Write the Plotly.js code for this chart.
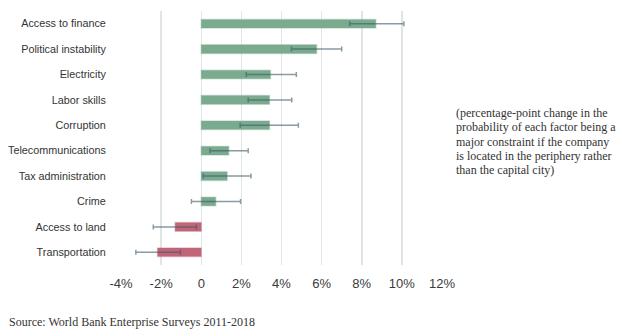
<!DOCTYPE html>
<html>
<head>
<meta charset="utf-8">
<script src="https://cdn.plot.ly/plotly-3.0.1.min.js"></script>
<style>html,body{margin:0;padding:0;background:#fff;}#chart{width:627px;height:334px;}</style>
</head>
<body>
<div id="chart"></div>
<script>
var categories = ["Access to finance","Political instability","Electricity","Labor skills","Corruption","Telecommunications","Tax administration","Crime","Access to land","Transportation"];
var values  = [8.7, 5.75, 3.45, 3.4, 3.4, 1.37, 1.29, 0.72, -1.3, -2.18];
var ciLow   = [7.4, 4.5, 2.24, 2.34, 1.94, 0.44, 0.09, -0.49, -2.39, -3.26];
var ciHigh  = [10.1, 7.0, 4.74, 4.51, 4.84, 2.34, 2.48, 1.96, -0.24, -1.04];
var xTickVals = [-4, -2, 0, 2, 4, 6, 8, 10, 12];
var xTickText = ["-4%", "-2%", "0", "2%", "4%", "6%", "8%", "10%", "12%"];
var noteLines = ["(percentage-point change in the", "probability of each factor being a", "major constraint if the company", "is located in the periphery rather", "than the capital city)"];
var sourceText = "Source: World Bank Enterprise Surveys 2011-2018";

var colors = values.map(function(v){ return v >= 0 ? "#7aab8f" : "#c16579"; });
var lineColors = values.map(function(v){ return v >= 0 ? "rgba(122,171,143,0.35)" : "rgba(193,101,121,0.35)"; });

var trace = {
  type: "bar",
  orientation: "h",
  y: categories,
  x: values,
  width: 0.34,
  marker: {color: colors, line: {color: lineColors, width: 1.5}},
  error_x: {
    type: "data",
    symmetric: false,
    array: ciHigh.map(function(h, i){ return h - values[i]; }),
    arrayminus: ciLow.map(function(l, i){ return values[i] - l; }),
    color: "rgba(62,88,104,0.6)",
    thickness: 1.5,
    width: 2.5
  },
  hoverinfo: "none"
};

var annotations = noteLines.map(function(line, i){
  return {xref: "paper", yref: "paper", x: 1, y: 0.598, xanchor: "left", yanchor: "middle",
    xshift: 11, yshift: -14.2 * i, align: "left", showarrow: false, text: line,
    font: {family: "Liberation Serif, serif", size: 12, color: "#333"}};
});
annotations.push({xref: "paper", yref: "paper", x: 0, y: 0, xanchor: "left", yanchor: "middle",
  xshift: -113, yshift: -57, align: "left", showarrow: false, text: sourceText,
  font: {family: "Liberation Serif, serif", size: 12, color: "#333"}});

var layout = {
  width: 627, height: 334,
  margin: {l: 120, r: 184, t: 11, b: 69, pad: 0},
  paper_bgcolor: "#fff", plot_bgcolor: "#fff",
  showlegend: false,
  bargap: 0,
  xaxis: {
    range: [-4.05, 12.05],
    tickvals: xTickVals, ticktext: xTickText,
    showgrid: true, gridcolor: "#e0e5e5", gridwidth: 1.5,
    zeroline: false, showline: false,
    ticks: "outside", ticklen: 6, tickcolor: "rgba(0,0,0,0)",
    tickfont: {family: "Liberation Sans, Arial, sans-serif", size: 13, color: "#3a3a3a"},
    fixedrange: true
  },
  yaxis: {
    type: "category",
    autorange: "reversed",
    showgrid: false, zeroline: false, showline: false,
    ticks: "outside", ticklen: 11, tickcolor: "rgba(0,0,0,0)",
    tickfont: {family: "Liberation Sans, Arial, sans-serif", size: 10.8, color: "#333"},
    fixedrange: true
  },
  annotations: annotations
};

Plotly.newPlot("chart", [trace], layout, {displayModeBar: false, staticPlot: true});
</script>
</body>
</html>
